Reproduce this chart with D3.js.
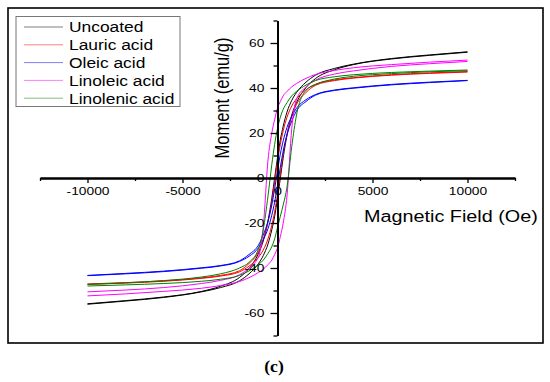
<!DOCTYPE html>
<html>
<head>
<meta charset="utf-8">
<script src="https://cdn.jsdelivr.net/npm/d3@7"></script>
<style>
  body { margin: 0; background: #fff; }
  svg text { font-family: "Liberation Sans", Arial, sans-serif; fill: #000; }
</style>
</head>
<body>
<div id="chart"></div>
<script>
// field sweep points (Oe), same grid for both branches
const fieldOe = [-10000, -8000, -6000, -4000, -3000, -2000, -1500, -1000, -750, -500, -300, -150, 0,
                 150, 300, 500, 750, 1000, 1500, 2000, 3000, 4000, 6000, 8000, 10000];

const seriesNames = ["Uncoated", "Lauric acid", "Oleic acid", "Linoleic acid", "Linolenic acid"];
const seriesColors = ["#000000", "#ff0000", "#0000ff", "#ff00ff", "#008000"];

// moment (emu/g), branch measured while field goes down / goes up
const uncoatedDown = [-55.9, -54.5, -52.9, -50.4, -48.1, -44.2, -40.2, -33.5, -28, -19, -9, 0, 9,
                      17, 23, 29.3, 34.5, 38, 42.6, 45.7, 48.7, 50.6, 53.1, 54.7, 56.1];
const uncoatedUp = [-56.1, -54.7, -53.1, -50.6, -48.7, -45.7, -42.6, -38, -34.5, -29.3, -23, -17, -9,
                    0, 9, 19, 28, 33.5, 40.2, 44.2, 48.1, 50.4, 52.9, 54.5, 55.9];

const lauricDown = [-47.1, -46.5, -45.7, -44.4, -43.3, -41.2, -38.0, -32.7, -27.3, -19.5, -10.6, -1.8, 7.3,
                    15, 21, 27, 32, 35.2, 39.2, 41.7, 43.6, 44.6, 45.9, 46.7, 47.3];
const lauricUp = [-47.3, -46.7, -45.9, -44.6, -43.6, -41.7, -39.2, -35.2, -32, -27, -21, -15, -7.3,
                  1.8, 10.6, 19.5, 27.3, 32.7, 38.0, 41.2, 43.3, 44.4, 45.7, 46.5, 47.1];

const oleicDown = [-43.3, -42.4, -41.4, -39.9, -38.9, -36.8, -34.0, -29.8, -25.3, -19.2, -12, -4.8, 3.2,
                   10.7, 16.5, 22.5, 27.4, 31, 34.8, 37.1, 39.1, 40.1, 41.6, 42.6, 43.4];
const oleicUp = [-43.4, -42.6, -41.6, -40.1, -39.1, -37.1, -34.8, -31, -27.4, -22.5, -16.5, -10.7, -3.2,
                 4.8, 12, 19.2, 25.3, 29.8, 34.0, 36.8, 38.9, 39.9, 41.4, 42.4, 43.3];

const linoleicDown = [-50.6, -49.8, -48.7, -46.9, -45.5, -43, -40, -35, -22, 8, 20, 26, 31,
                      34, 36.5, 38.5, 40.5, 42, 44.3, 46, 47.8, 49, 50.4, 51.5, 52.4];
const linoleicUp = [-52.4, -51.5, -50.4, -49, -47.8, -46, -44.3, -42, -40.5, -38.5, -36.5, -34, -31,
                    -26, -20, -8, 22, 35, 40.5, 43.5, 46.2, 47.6, 49.6, 50.8, 51.8];

const linolenicDown = [-47.3, -46.6, -45.6, -44.0, -42.6, -40.0, -37.5, -31.5, -23, -8, 6, 15, 22,
                       27, 30.5, 33.5, 36.5, 38.5, 41.3, 43.3, 45, 45.9, 46.9, 47.5, 48];
const linolenicUp = [-48, -47.5, -46.9, -45.9, -45, -43.3, -41.3, -38.5, -36.5, -33.5, -30.5, -27, -22,
                     -17, -12, -4, 14, 28, 39, 41.5, 44, 45.2, 46.4, 47.2, 47.7];

const xMajorTicks = [-10000, -5000, 0, 5000, 10000];
const xMinorTicks = [-12500, -7500, -2500, 2500, 7500, 12500];
const yMajorTicks = [-60, -40, -20, 0, 20, 40, 60];
const yMinorTicks = [-70, -50, -30, -10, 10, 30, 50, 70];

const branches = [
    [uncoatedDown, uncoatedUp],
    [lauricDown, lauricUp],
    [oleicDown, oleicUp],
    [linoleicDown, linoleicUp],
    [linolenicDown, linolenicUp],
];

// the source figure is squeezed a bit wider than tall, text too
const SX = 1.2;

const width = 550, height = 382;
const svg = d3.select("#chart").append("svg")
    .attr("width", width)
    .attr("height", height);

svg.append("rect")
    .attr("x", 8).attr("y", 8)
    .attr("width", 535).attr("height", 335)
    .attr("fill", "none")
    .attr("stroke", "#000")
    .attr("stroke-width", 1.6);

const x = d3.scaleLinear().domain([-12500, 12500]).range([40, 515]);
const y = d3.scaleLinear().domain([-70, 70]).range([335.5, 20.5]);

// curves
const line = d3.line()
    .x((d, i) => x(fieldOe[i]))
    .y(d => y(d))
    .curve(d3.curveMonotoneX);

const plotArea = svg.append("g").attr("id", "plotArea");
branches.forEach((pair, k) => {
    pair.forEach(vals => {
        plotArea.append("path")
            .datum(vals)
            .attr("fill", "none")
            .attr("stroke", seriesColors[k])
            .attr("stroke-width", 1)
            .attr("d", line);
    });
});

// x axis through y = 0
const xAxisG = svg.append("g")
    .attr("transform", "translate(0," + y(0) + ")");
xAxisG.append("g")
    .call(d3.axisBottom(x).tickValues(xMinorTicks).tickSize(3).tickSizeOuter(0).tickFormat(""));
xAxisG.append("g")
    .call(d3.axisBottom(x).tickValues(xMajorTicks).tickSize(5).tickSizeOuter(0).tickPadding(4)
        .tickFormat(d => String(d)));
xAxisG.selectAll("path.domain").attr("stroke-width", 1.8);
xAxisG.selectAll("line").attr("stroke-width", 1.3);
xAxisG.selectAll("text")
    .style("font-size", "11.5px")
    .style("font-family", "'Liberation Sans', Arial, sans-serif")
    .attr("transform", "scale(" + SX + ",1)");

// y axis through x = 0
const yAxisG = svg.append("g")
    .attr("transform", "translate(" + x(0) + ",0)");
yAxisG.append("g")
    .call(d3.axisLeft(y).tickValues(yMinorTicks).tickSize(4).tickSizeOuter(0).tickFormat(""));
yAxisG.append("g")
    .call(d3.axisLeft(y).tickValues(yMajorTicks).tickSize(7).tickSizeOuter(0).tickPadding(4)
        .tickFormat(d => String(d)));
yAxisG.selectAll("path.domain").attr("stroke-width", 1.8);
yAxisG.selectAll("line").attr("stroke-width", 1.3);
yAxisG.selectAll("text")
    .style("font-size", "11.5px")
    .style("font-family", "'Liberation Sans', Arial, sans-serif")
    .attr("transform", "scale(" + SX + ",1)");

// axis titles
svg.append("text")
    .attr("transform", "translate(364,222) scale(" + SX + ",1)")
    .style("font-size", "16.5px")
    .text("Magnetic Field (Oe)");

svg.append("text")
    .attr("transform", "translate(229,98) scale(" + SX + ",1) rotate(-90)")
    .attr("text-anchor", "middle")
    .style("font-size", "16.5px")
    .text("Moment (emu/g)");

// legend
const legend = svg.append("g").attr("id", "legend");
legend.append("rect")
    .attr("x", 16).attr("y", 16.5)
    .attr("width", 164).attr("height", 90)
    .attr("fill", "#fff")
    .attr("stroke", "#777")
    .attr("stroke-width", 1);
seriesNames.forEach((name, i) => {
    const ly = 27 + i * 17.8;
    legend.append("line")
        .attr("x1", 24).attr("x2", 63)
        .attr("y1", ly).attr("y2", ly)
        .attr("stroke", seriesColors[i])
        .attr("stroke-opacity", 0.5)
        .attr("stroke-width", 1);
    legend.append("text")
        .attr("transform", "translate(69," + (ly + 5.3) + ") scale(" + SX + ",1)")
        .style("font-size", "14.5px")
        .text(name);
});

// panel letter
svg.append("text")
    .attr("transform", "translate(274,372) scale(1.1,1)")
    .attr("text-anchor", "middle")
    .style("font-family", "'Liberation Serif', 'Times New Roman', serif")
    .style("font-weight", "bold")
    .style("font-size", "16px")
    .text("(c)");
</script>
</body>
</html>
